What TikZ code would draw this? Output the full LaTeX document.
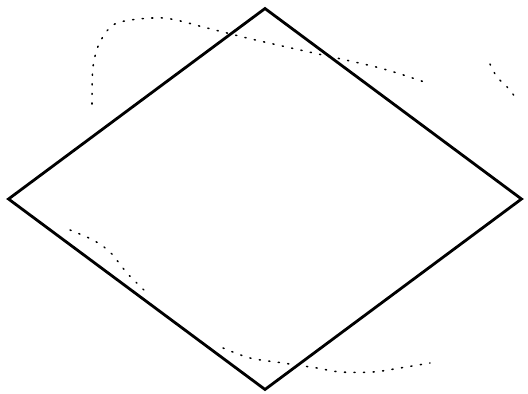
\documentclass[tikz,border=0pt]{standalone}
\usetikzlibrary{shapes.geometric}

\begin{document}
\begin{tikzpicture}[
    x=0.025cm, y=-0.025cm,
    rhombus/.style={draw, diamond, line width=2pt, inner sep=0pt, minimum width=12.85cm, minimum height=9.55cm},
    trace/.style={line width=1.1pt, dash pattern=on 0.8pt off 6pt, line cap=round}
]
\useasboundingbox (0,0) rectangle (528,394);
\node[rhombus] (rhombus) at (265,199) {};
% faint pencil traces
\draw[trace] plot[smooth] coordinates {(92,104) (93,67) (100,42) (117,23) (163,18) (207,28) (247,38) (300,50) (380,68) (430,84)};
\draw[trace] plot[smooth] coordinates {(490,64) (497,77) (510,90) (518,102)};
\draw[trace] plot[smooth] coordinates {(70,230) (93,240) (110,252) (127,273) (147,293)};
\draw[trace] plot[smooth] coordinates {(223,348) (250,358) (283,363) (317,368) (340,372) (373,372) (400,368) (430,363)};
\end{tikzpicture}
\end{document}
